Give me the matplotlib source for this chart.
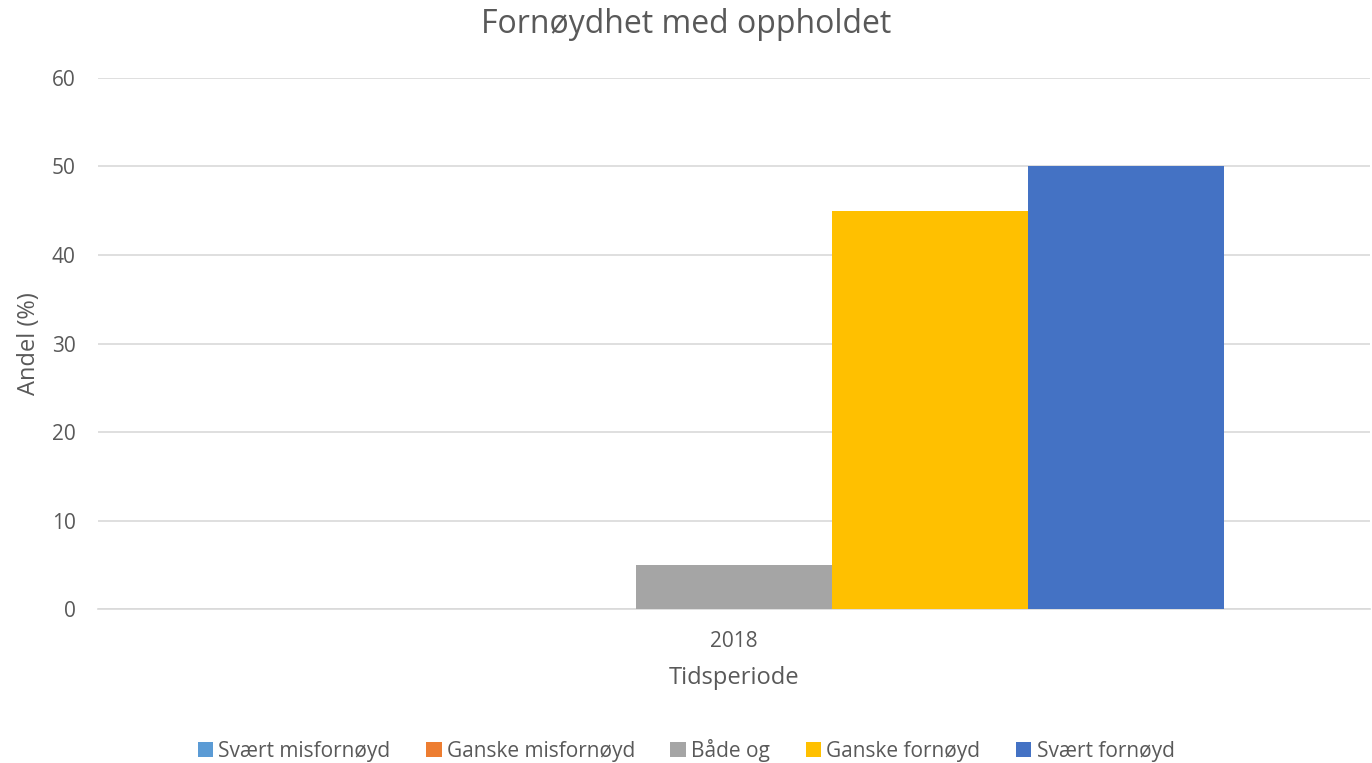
import matplotlib.pyplot as plt
from matplotlib.patches import Patch

plt.rcParams['font.family'] = ['Open Sans', 'DejaVu Sans']

categories = ["2018"]
series_names = ["Svært misfornøyd", "Ganske misfornøyd", "Både og", "Ganske fornøyd", "Svært fornøyd"]
series_values = [[0], [0], [5], [45], [50]]
colors = ["#5B9BD5", "#ED7D31", "#A5A5A5", "#FFC000", "#4472C4"]
yticks = [0, 10, 20, 30, 40, 50, 60]

text_color = "#595959"
grid_color = "#D9D9D9"

fig = plt.figure(figsize=(13.72, 7.63), dpi=100)
ax = fig.add_axes([0.0714, 0.2018, 0.9271, 0.696])

bar_w = 0.154
n = len(series_names)
for i, (name, vals, c) in enumerate(zip(series_names, series_values, colors)):
    xs = [k + (i - (n - 1) / 2) * bar_w for k in range(len(categories))]
    ax.bar(xs, vals, width=bar_w, color=c, label=name, zorder=3)

ax.set_xlim(-0.5, 0.5)
ax.set_ylim(0, 60)
ax.set_yticks(yticks)
ax.set_xticks(range(len(categories)))
ax.set_xticklabels(categories)
ax.grid(axis="y", color=grid_color, linewidth=1.2, zorder=0)
for s in ["top", "right", "left"]:
    ax.spines[s].set_visible(False)
ax.spines["bottom"].set_color(grid_color)
ax.spines["bottom"].set_linewidth(1.2)
ax.tick_params(axis="both", length=0, colors=text_color, labelsize=15)
ax.tick_params(axis="y", pad=16)
ax.tick_params(axis="x", pad=16)

ax.set_ylabel("Andel (%)", fontsize=17, color=text_color, labelpad=8)
ax.set_xlabel("Tidsperiode", fontsize=17, color=text_color, labelpad=10)
fig.suptitle("Fornøydhet med oppholdet", fontsize=23, color=text_color, y=0.99)

handles = [Patch(facecolor=c, label=nm) for nm, c in zip(series_names, colors)]
fig.legend(handles=handles, loc="center", bbox_to_anchor=(0.5, 0.017), ncol=5,
           frameon=False, fontsize=15, handlelength=0.75, handleheight=0.75,
           handletextpad=0.25, columnspacing=1.7, labelcolor=text_color)

fig.savefig("out.png", dpi=100)
